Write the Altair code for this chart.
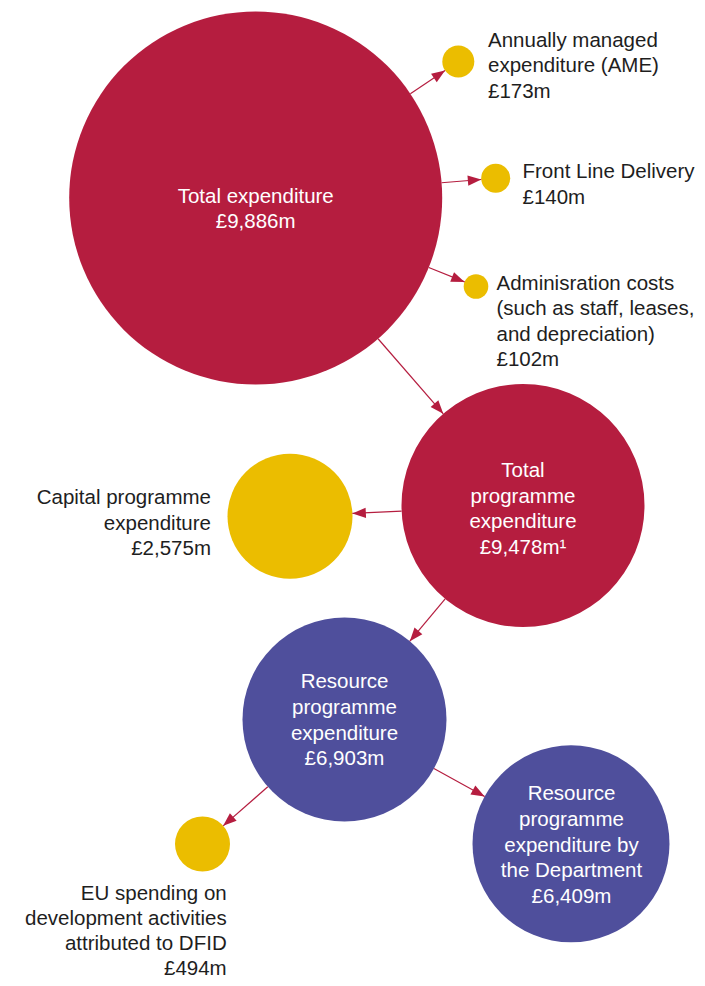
import pandas as pd
import altair as alt

# ---------------- values ----------------
node_names = ["total", "ame", "frontline", "admin", "programme",
              "capital", "resource", "eu", "dept"]
node_titles = [
    ["Total expenditure"],
    ["Annually managed", "expenditure (AME)"],
    ["Front Line Delivery"],
    ["Adminisration costs", "(such as staff, leases,", "and depreciation)"],
    ["Total", "programme", "expenditure"],
    ["Capital programme", "expenditure"],
    ["Resource", "programme", "expenditure"],
    ["EU spending on", "development activities", "attributed to DFID"],
    ["Resource", "programme", "expenditure by", "the Department"],
]
node_value_m = [9886, 173, 140, 102, 9478, 2575, 6903, 494, 6409]
node_footnote = ["", "", "", "", "¹", "", "", "", ""]
node_group = ["Total", "Component", "Component", "Component", "Total",
              "Component", "Resource", "Component", "Resource"]

edge_source = ["total", "total", "total", "total",
               "programme", "programme", "resource", "resource"]
edge_target = ["ame", "frontline", "admin", "programme",
               "capital", "resource", "eu", "dept"]

# ---------------- layout (diagram units) ----------------
node_x = [255.7, 458.3, 495.7, 476.0, 523.0, 290.0, 344.5, 202.5, 571.0]
node_y = [198.0, 61.5, 178.3, 286.5, 505.5, 516.3, 719.5, 844.0, 843.8]
node_r = [186.5, 16.0, 14.5, 12.3, 121.5, 62.5, 102.0, 27.5, 98.5]
label_x = [255.7, 488.0, 522.5, 496.5, 523.0, 211.0, 344.5, 226.7, 571.5]
label_y = [197.0, 40.5, 171.7, 284.0, 471.0, 498.0, 682.0, 894.0, 794.3]
label_step = [24.7, 25.5, 26.0, 25.3, 25.7, 25.5, 25.8, 25.0, 25.6]
label_align = ["center", "left", "left", "left", "center",
               "right", "center", "right", "center"]
label_inside = [True, False, False, False, True, False, True, False, True]

group_domain = ["Total", "Component", "Resource"]
group_colors = ["#B51D3F", "#EBBD00", "#4F4F9C"]
arrow_color = "#B51D3F"
text_dark = "#1E1E1E"
font = "Liberation Sans"
font_size = 20.5

# ---------------- tables ----------------
nodes = pd.DataFrame({
    "name": node_names, "x": node_x, "y": node_y, "r": node_r,
    "group": node_group, "value": node_value_m,
})

rows = []
for i, name in enumerate(node_names):
    lines = node_titles[i] + [f"£{node_value_m[i]:,}m{node_footnote[i]}"]
    for k, t in enumerate(lines):
        rows.append({
            "name": name, "line": k, "text": t,
            "lx": label_x[i], "ly0": label_y[i], "step": label_step[i],
            "align": label_align[i],
            "inside": label_inside[i],
        })
labels = pd.DataFrame(rows)

edges = pd.DataFrame({"source": edge_source, "target": edge_target})

W, H = 689, 970
xs = alt.Scale(domain=[8, 8 + W], nice=False, zero=False)
ys = alt.Scale(domain=[8, 8 + H], nice=False, zero=False, reverse=True)
# Vega circle symbols have diameter sqrt(size): size = (2r)^2
ss = alt.Scale(type="linear", domain=[0, 200000], range=[0, 200000], zero=True)

circles = alt.Chart(nodes).transform_calculate(
    sz="4 * datum.r * datum.r"
).mark_circle(opacity=1, strokeWidth=0).encode(
    x=alt.X("x:Q", scale=xs, axis=None),
    y=alt.Y("y:Q", scale=ys, axis=None),
    size=alt.Size("sz:Q", scale=ss, legend=None),
    color=alt.Color("group:N", scale=alt.Scale(domain=group_domain, range=group_colors), legend=None),
)

edge_base = alt.Chart(edges).transform_lookup(
    lookup="source",
    from_=alt.LookupData(nodes, "name", ["x", "y", "r"]),
    as_=["sx", "sy", "sr"],
).transform_lookup(
    lookup="target",
    from_=alt.LookupData(nodes, "name", ["x", "y", "r"]),
    as_=["tx", "ty", "tr"],
).transform_calculate(
    len="sqrt((datum.tx - datum.sx) * (datum.tx - datum.sx) + (datum.ty - datum.sy) * (datum.ty - datum.sy))",
).transform_calculate(
    ux="(datum.tx - datum.sx) / datum.len",
    uy="(datum.ty - datum.sy) / datum.len",
).transform_calculate(
    x1="datum.sx + datum.sr * datum.ux",
    y1="datum.sy + datum.sr * datum.uy",
    x2="datum.tx - datum.tr * datum.ux",
    y2="datum.ty - datum.tr * datum.uy",
    ang="(atan2(datum.uy, datum.ux) * 180 / PI + 360) % 360",
)

shafts = edge_base.mark_rule(color=arrow_color, strokeWidth=1.2).encode(
    x=alt.X("x1:Q", scale=xs, axis=None),
    y=alt.Y("y1:Q", scale=ys, axis=None),
    x2="x2:Q",
    y2="y2:Q",
)

heads = edge_base.mark_point(
    shape="M0,0L-1,-0.38L-1,0.38Z", filled=True, opacity=1,
    color=arrow_color, strokeWidth=0, size=720,
).encode(
    x=alt.X("x2:Q", scale=xs, axis=None),
    y=alt.Y("y2:Q", scale=ys, axis=None),
    angle=alt.Angle("ang:Q", scale=alt.Scale(domain=[0, 360], range=[0, 360])),
)

text_base = alt.Chart(labels).transform_calculate(
    ty="datum.ly0 + datum.line * datum.step"
)

def text_layer(inside, align, color):
    return text_base.transform_filter(
        f"datum.inside == {str(inside).lower()} && datum.align == '{align}'"
    ).mark_text(
        align=align, baseline="middle", font=font, fontSize=font_size, color=color,
    ).encode(
        x=alt.X("lx:Q", scale=xs, axis=None),
        y=alt.Y("ty:Q", scale=ys, axis=None),
        text="text:N",
    )

texts = [
    text_layer(True, "center", "#FFFFFF"),
    text_layer(False, "left", text_dark),
    text_layer(False, "right", text_dark),
]

chart = alt.layer(circles, shafts, heads, *texts).properties(
    width=W, height=H,
    padding=0,
    autosize=alt.AutoSizeParams(type="none"),
    background="white",
).configure_view(stroke=None)

chart.save("out.html", embed_options={"renderer": "svg", "actions": False})
